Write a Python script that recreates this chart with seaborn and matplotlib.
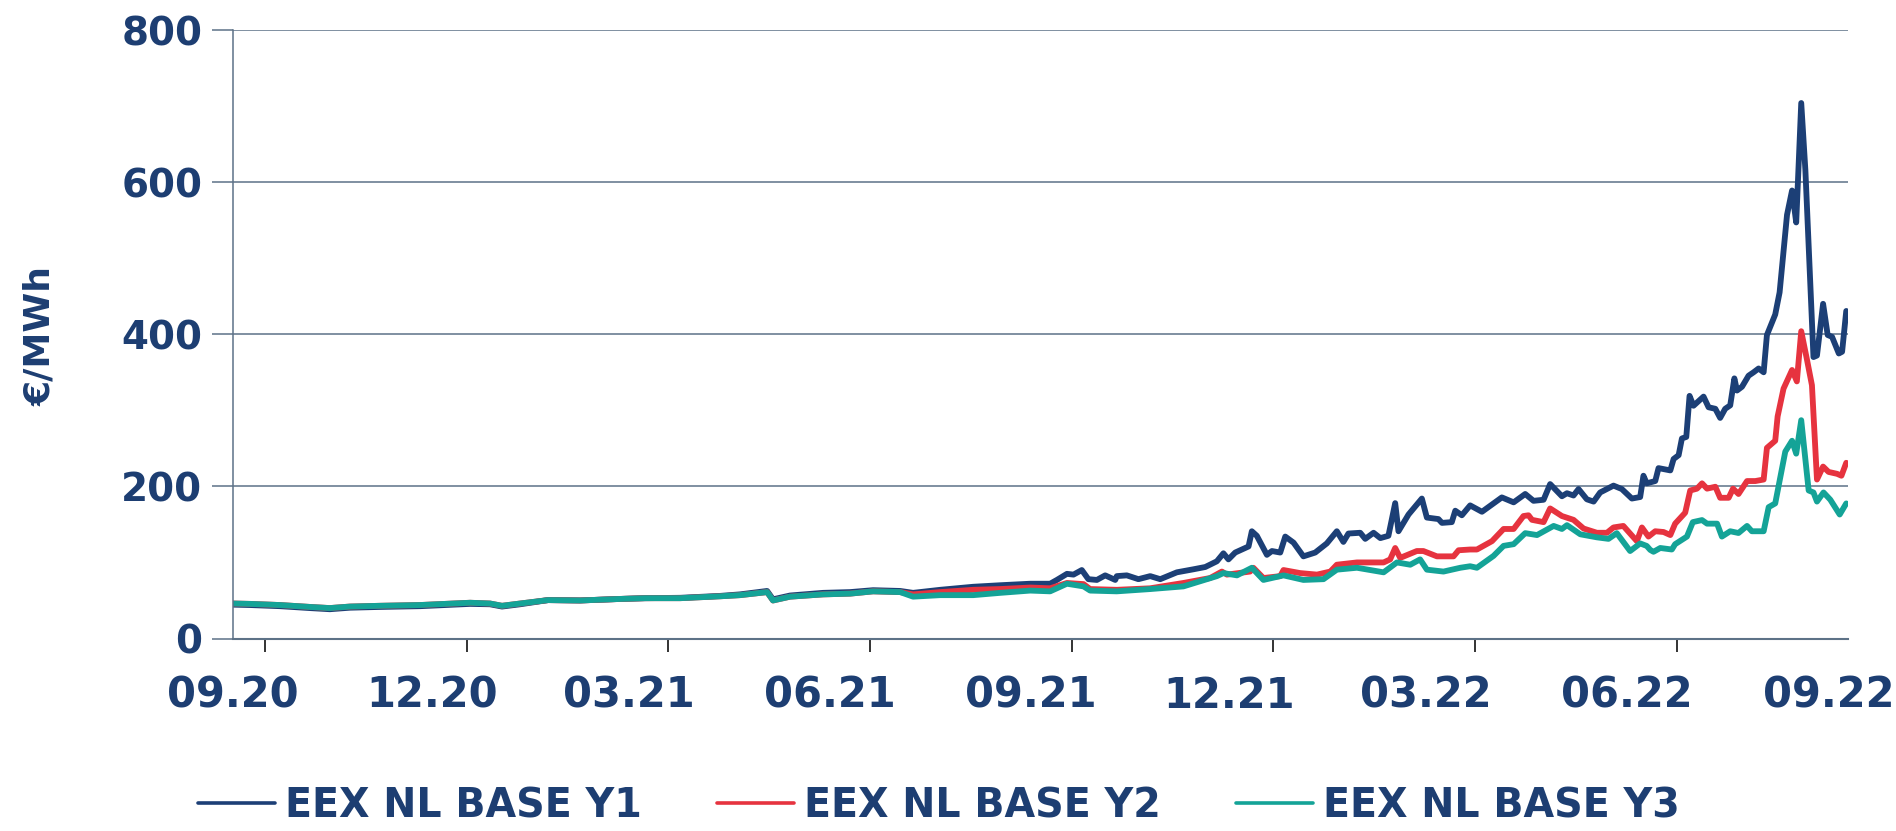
import numpy as np
import pandas as pd
import matplotlib
matplotlib.use("Agg")
import matplotlib.pyplot as plt
import matplotlib.dates as mdates
from matplotlib.lines import Line2D
import matplotlib.ticker as mticker
import seaborn as sns

# ---------------- data ----------------
START = "2020-09-01"          # day 0 of the day offsets below
series_names = ["EEX NL BASE Y1", "EEX NL BASE Y2", "EEX NL BASE Y3"]

y1_days = [0, 7.8, 21.5, 35.2, 44.3, 53.5, 67.2, 85.6, 108.5, 117.6,
           123.1, 131.4, 144.2, 158.8, 177.1, 188.6, 204.6, 222.9, 232.0, 244.4,
           247.1, 254.9, 270.0, 282.4, 292.9, 305.3, 311.2, 323.6, 338.7, 351.0,
           364.8, 373.9, 377.0, 381.6, 384.6, 388.4, 391.4, 395.3, 399.1, 403.7,
           404.4, 409.0, 414.3, 419.7, 424.3, 431.9, 439.5, 444.9, 450.2, 453.2,
           455.5, 458.6, 461.6, 464.7, 466.2, 468.5, 473.1, 475.4, 479.2, 481.5,
           485.3, 489.8, 495.2, 500.5, 505.1, 508.1, 510.4, 515.8, 518.1, 521.9,
           525.0, 528.7, 531.8, 533.3, 537.9, 544.0, 546.3, 551.6, 553.2, 557.7,
           559.3, 562.3, 566.1, 571.5, 575.3, 580.6, 586.0, 591.3, 595.1, 599.7,
           602.7, 608.1, 610.4, 613.4, 615.7, 619.5, 622.6, 625.6, 631.7, 635.5,
           640.1, 643.9, 645.4, 646.9, 650.8, 652.3, 657.7, 659.2, 661.5, 663.0,
           665.0, 666.5, 668.3, 672.9, 675.2, 678.3, 680.5, 682.8, 685.1, 687.0,
           688.2, 690.5, 693.5, 695.8, 698.1, 700.4, 701.9, 705.7, 707.7, 711.1,
           713.4, 715.3, 717.6, 719.5, 723.2, 724.8, 727.6, 729.7, 731.7, 734.8,
           736.3, 738.2]
y1_vals = [44.5, 44, 42.5, 40, 38.5, 40.5, 41.5, 42.5, 45.5, 45,
           42, 45, 50.5, 50, 52, 53, 53.5, 56, 58, 62.5,
           51.5, 56.5, 60, 61, 63.5, 62.5, 60, 64, 68, 70,
           72, 72, 77, 85, 84, 90, 78, 77, 83, 77,
           82, 83, 78, 82, 78, 87, 91, 94, 101.5, 112,
           104, 113, 117, 121, 141, 135, 110, 115, 113, 134,
           126, 108, 113, 125, 141, 127, 138, 139, 131, 139,
           132, 135, 178, 141, 163, 184, 159, 157, 152, 153,
           168, 162, 175, 166.6, 174.5, 185.5, 179, 190, 181, 182.4,
           203, 187, 191, 188, 196.5, 183, 180, 192, 201, 196.5,
           184, 186, 214, 204, 207, 224, 221, 236, 241, 263,
           265, 319, 306, 318, 304, 302, 290, 302, 306.5, 342,
           326, 331, 345.5, 350, 355, 350, 399, 426, 455, 557,
           589, 547, 704, 615.6, 370, 372, 440, 399, 396.6, 374.7,
           377, 430.6]

y2_days = [0, 7.8, 21.5, 35.2, 44.3, 53.5, 67.2, 85.6, 108.5, 117.6,
           123.1, 131.4, 144.2, 158.8, 177.1, 188.6, 204.6, 222.9, 232.0, 244.4,
           247.1, 254.9, 270.0, 282.4, 292.9, 305.3,
           311.2, 323.6, 338.7, 351.0, 364.8, 373.9, 381.6, 389.2, 392.2, 404.4,
           419.7, 434.9, 447.1, 452.5, 454.8, 465.4, 466.9, 471.5, 479.2, 480.7,
           488.3, 496.0, 502.1, 505.1, 514.3, 526.5, 529.5, 531.8, 534.1, 541.7,
           544.7, 550.9, 558.5, 560.8, 566.1, 569.2, 576.1, 581.4, 586.0, 590.5,
           592.8, 594.4, 599.7, 602.7, 608.1, 613.4, 618.0, 624.1, 628.7, 631.7,
           636.2, 642.4, 644.7, 647.7, 650.8, 654.6, 657.7, 659.9, 664.5, 666.8,
           669.9, 672.2, 674.5, 678.3, 680.5, 684.4, 686.4, 688.9, 692.8, 696.6,
           700.4, 701.9, 705.7, 706.8, 709.5, 713.4, 715.6, 717.6, 720.2, 722.5,
           724.8, 727.6, 730.1, 734.0, 736.0, 738.2]
y2_vals = [46, 45.5, 44, 41.5, 40, 42, 43, 44, 47, 46,
           43, 46, 50.5, 50, 52, 53, 53, 55.5, 57, 61,
           50, 55, 58, 59, 62, 61,
           58, 61, 64, 65, 67, 66, 73, 71.5, 65, 64,
           66, 73, 79.5, 88, 84, 88, 93, 79.5, 82, 90,
           86, 84, 88, 97, 100, 100, 104, 119, 106, 115,
           115, 108, 108, 116, 117, 117, 128, 144, 144, 161,
           162, 156, 153, 171, 161, 156, 144.6, 139, 139, 146,
           148, 128, 146, 134, 141, 140, 136, 151, 165.4, 194.6,
           197, 204, 197, 199.5, 185, 185, 197, 190, 207, 207,
           209, 250.6, 260, 292, 328.5, 353, 338, 404, 367, 333,
           209, 226, 219, 216.5, 214, 231]

y3_days = [0, 7.8, 21.5, 35.2, 44.3, 53.5, 67.2, 85.6, 108.5, 117.6,
           123.1, 131.4, 144.2, 158.8, 177.1, 188.6, 204.6, 222.9, 232.0, 244.4,
           247.1, 254.9, 270.0, 282.4, 292.9, 305.3,
           311.2, 323.6, 338.7, 351.0, 364.8, 373.9, 381.6, 389.2, 392.2, 404.4,
           419.7, 434.9, 450.2, 453.2, 459.4, 466.2, 471.5, 480.7, 489.8, 499.0,
           505.1, 514.3, 526.5, 532.6, 538.7, 543.2, 546.3, 553.9, 561.6, 566.1,
           569.2, 576.8, 581.4, 586.0, 591.3, 596.7, 604.3, 608.1, 610.4, 616.5,
           624.1, 629.4, 633.2, 639.3, 643.9, 646.9, 648.5, 650.0, 653.1, 658.4,
           659.9, 665.3, 668.0, 672.2, 674.5, 679.1, 681.3, 685.1, 688.9, 692.8,
           695.0, 700.4, 702.7, 705.7, 710.3, 713.4, 715.3, 717.6, 721.0, 723.2,
           724.8, 727.8, 730.9, 735.2, 738.2]
y3_vals = [46, 45.5, 44, 41.5, 40, 42, 43, 44, 47, 46,
           43, 46, 50.5, 50, 52, 53, 53, 55.5, 57, 61,
           50, 55, 58, 59, 62, 61,
           55, 57, 57, 60, 63, 62, 72, 68.5, 63, 62,
           65, 68.5, 82, 86, 83, 93, 77, 83, 77, 78,
           90.5, 93, 87, 100, 97, 104, 90.5, 88, 93, 95,
           93, 108.6, 121.8, 124, 138.5, 136, 148, 144, 149, 137,
           133, 131, 138.5, 115, 125, 121.7, 116.5, 114, 119, 117,
           124, 134, 153, 155.7, 151, 151, 134, 141, 138.7, 148,
           141, 141, 172.7, 177.6, 245.7, 260, 243, 287, 194.6, 192,
           180, 192, 182.5, 163, 177.6]

y_ticks = [0, 200, 400, 600, 800]
y_label = "€/MWh"

# ---------------- styling ----------------
NAVY = "#1d3e72"
colors = ["#1c3f76", "#e6333f", "#14a397"]
GRID = "#5d7287"
LW = 4.2

sns.set_theme(style="white")
plt.rcParams["font.family"] = ["DejaVu Sans"]
plt.rcParams["font.weight"] = "bold"
plt.rcParams["lines.linewidth"] = LW

start = pd.Timestamp(START)
frames = []
for name, d, v in zip(series_names, [y1_days, y2_days, y3_days], [y1_vals, y2_vals, y3_vals]):
    frames.append(pd.DataFrame({
        "date": start + pd.to_timedelta(np.asarray(d, dtype=float), unit="D"),
        "value": v,
        "series": name,
    }))
df = pd.concat(frames, ignore_index=True)

W, H = 1896, 831
fig = plt.figure(figsize=(W / 100, H / 100), dpi=100)
left, right, top, bottom = 233, 1848, 30, 638.5
ax = fig.add_axes([left / W, 1 - bottom / H, (right - left) / W, (bottom - top) / H])

sns.lineplot(data=df, x="date", y="value", hue="series", hue_order=series_names,
             palette=colors, estimator=None, legend=False, linewidth=LW, ax=ax)
for ln in ax.get_lines():
    ln.set_linewidth(LW)
    ln.set_solid_joinstyle("round")

ax.set_xlim(start, start + pd.Timedelta(days=739))
ax.set_ylim(0, 800)
ax.set_xlabel("")
ax.set_ylabel("")

# y axis
ax.set_yticks(y_ticks)
ax.yaxis.grid(True, color=GRID, linewidth=1.1)
ax.xaxis.grid(False)
ax.tick_params(axis="y", which="major", left=True, length=15, width=1.1, color=GRID,
               labelsize=28, labelcolor=NAVY, pad=7)

# x axis: labels at quarter starts, small tick marks mid-quarter month
ax.xaxis.set_major_locator(mdates.MonthLocator(bymonth=[3, 6, 9, 12], bymonthday=1))
ax.xaxis.set_major_formatter(mdates.DateFormatter("%m.%y"))
tick_pos = mdates.date2num(start) + 14.6 + 92.3 * np.arange(8)
ax.xaxis.set_minor_locator(mticker.FixedLocator(tick_pos))
ax.tick_params(axis="x", which="major", bottom=True, length=0, labelsize=30,
               labelcolor=NAVY, pad=26)
ax.tick_params(axis="x", which="minor", bottom=True, length=9, width=1.4, color="#333333")

for s in ["top", "right"]:
    ax.spines[s].set_visible(False)
ax.spines["left"].set_color(GRID)
ax.spines["left"].set_linewidth(1.1)
ax.spines["bottom"].set_color(GRID)
ax.spines["bottom"].set_linewidth(1.5)

fig.text(40 / W, 1 - 336 / H, y_label, rotation=90, ha="center", va="center",
         fontsize=26, color=NAVY, fontweight="bold")

handles = [Line2D([0], [0], color=c, linewidth=2.6) for c in colors]
fig.legend(handles, series_names, loc="center", bbox_to_anchor=(939 / W, 1 - 806 / H),
           ncol=3, frameon=False, handlelength=1.95, handletextpad=0.25,
           columnspacing=1.9, prop={"weight": "bold", "size": 28.5}, labelcolor=NAVY)

fig.savefig("out.png", dpi=100, facecolor="white")
